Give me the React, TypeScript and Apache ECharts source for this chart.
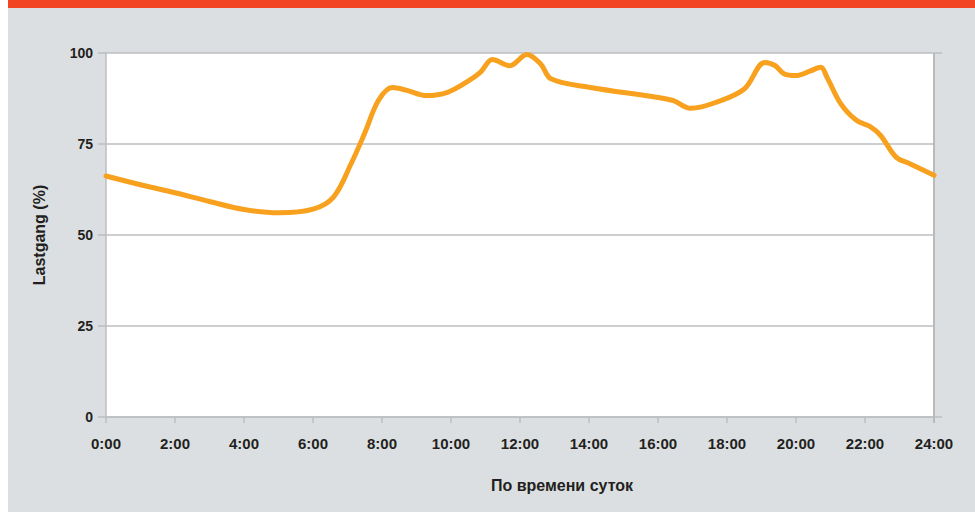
import React, { useEffect, useRef } from "react";
import * as echarts from "echarts";

const hours = [
  0, 1, 2, 3, 4, 5, 6, 6.6, 7.1, 7.5, 7.9, 8.3, 8.7, 9.3, 9.9, 10.45, 10.85, 11.2, 11.7, 12.2,
  12.6, 12.9, 14.0, 16.0, 16.45, 16.95, 17.7, 18.5, 19.1, 19.4, 19.65, 20.0, 20.4, 20.72, 20.9,
  21.3, 21.75, 22.15, 22.45, 22.9, 23.3, 24,
];
const load = [
  66.2, 63.8, 61.6, 59.2, 57.0, 56.1, 57.1, 60.5, 69.5, 78, 87, 90.5, 89.8, 88.3, 89.2, 92.0,
  94.7, 98.2, 96.5, 99.6, 97.0, 92.9, 90.6, 87.8, 86.9, 84.8, 86.5, 90.1, 97.4, 96.5, 94.3, 93.8,
  95.0, 96.1, 93.3, 86.0, 81.5, 79.8, 77.4, 71.4, 69.6, 66.4,
];
const yTicks = [0, 25, 50, 75, 100];
const xTickHours = [0, 2, 4, 6, 8, 10, 12, 14, 16, 18, 20, 22, 24];
const yAxisTitle = "Lastgang (%)";
const xAxisTitle = "По времени суток";

const GRID = "#bcbec0";
const TEXT = "#231f20";
const LINE = "#f7a11e";
const FONT = "'Liberation Sans', Arial, Helvetica, sans-serif";

export default function App() {
  const ref = useRef<HTMLDivElement>(null);
  useEffect(() => {
    if (!ref.current) return;
    const chart = echarts.init(ref.current, null, { renderer: "svg" });
    chart.setOption({
      animation: false,
      backgroundColor: "#dcdfe2",
      textStyle: { fontFamily: FONT },
      grid: {
        left: 106,
        right: 41,
        top: 53,
        bottom: 95,
        show: true,
        backgroundColor: "#ffffff",
        borderWidth: 0,
      },
      xAxis: {
        type: "value",
        min: 0,
        max: 24,
        interval: 2,
        axisLine: { show: true, lineStyle: { color: GRID, width: 1.5 } },
        axisTick: { show: true, length: 6, lineStyle: { color: GRID, width: 1.5 } },
        splitLine: { show: false },
        axisLabel: {
          margin: 19,
          color: TEXT,
          fontWeight: "bold",
          fontSize: 15,
          fontFamily: FONT,
          formatter: (v: number) => (xTickHours.includes(v) ? `${v}:00` : ""),
        },
      },
      yAxis: {
        type: "value",
        min: 0,
        max: 100,
        interval: 25,
        name: yAxisTitle,
        nameLocation: "middle",
        nameGap: 59,
        nameRotate: 90,
        nameTextStyle: { color: TEXT, fontWeight: "bold", fontSize: 16, fontFamily: FONT },
        axisLine: { show: true, lineStyle: { color: GRID, width: 1.5 } },
        axisTick: { show: true, length: 8, lineStyle: { color: GRID, width: 1.5 } },
        splitLine: { show: true, lineStyle: { color: GRID, width: 1.5 } },
        axisLabel: {
          margin: 13,
          color: TEXT,
          fontWeight: "bold",
          fontSize: 14,
          fontFamily: FONT,
          formatter: (v: number) => (yTicks.includes(v) ? String(v) : ""),
        },
      },
      series: [
        {
          type: "line",
          data: hours.map((h, i) => [h, load[i]]),
          smooth: 0.35,
          symbol: "none",
          clip: false,
          lineStyle: { color: LINE, width: 5, cap: "round", join: "round" },
          z: 5,
        },
      ],
    });

    const [xr, yt] = chart.convertToPixel({ gridIndex: 0 }, [24, 100]) as number[];
    const [, yb] = chart.convertToPixel({ gridIndex: 0 }, [24, 0]) as number[];
    chart.setOption({
      graphic: [
        { type: "rect", shape: { x: 0, y: 0, width: 8, height: 512 }, style: { fill: "#ffffff" }, z: -5 },
        { type: "rect", shape: { x: 8, y: 0, width: 967, height: 8 }, style: { fill: "#f24523" }, z: -5 },
        { type: "line", shape: { x1: xr, y1: yt, x2: xr + 8, y2: yt }, style: { stroke: GRID, lineWidth: 1.5 }, z: 3 },
        { type: "line", shape: { x1: xr, y1: yb, x2: xr + 8, y2: yb }, style: { stroke: GRID, lineWidth: 1.5 }, z: 3 },
        { type: "line", shape: { x1: xr, y1: yt, x2: xr, y2: yb + 6 }, style: { stroke: "#b8babc", lineWidth: 2 }, z: 3 },
        {
          type: "text",
          x: 562,
          y: 485,
          style: {
            text: xAxisTitle,
            fill: TEXT,
            font: `bold 16px ${FONT}`,
            textAlign: "center",
            textVerticalAlign: "middle",
          },
          z: 3,
        },
      ],
    });
    return () => chart.dispose();
  }, []);
  return (
    <div style={{ position: "fixed", left: 0, top: 0, width: 975, height: 512 }}>
      <div ref={ref} style={{ width: 975, height: 512 }} />
    </div>
  );
}
